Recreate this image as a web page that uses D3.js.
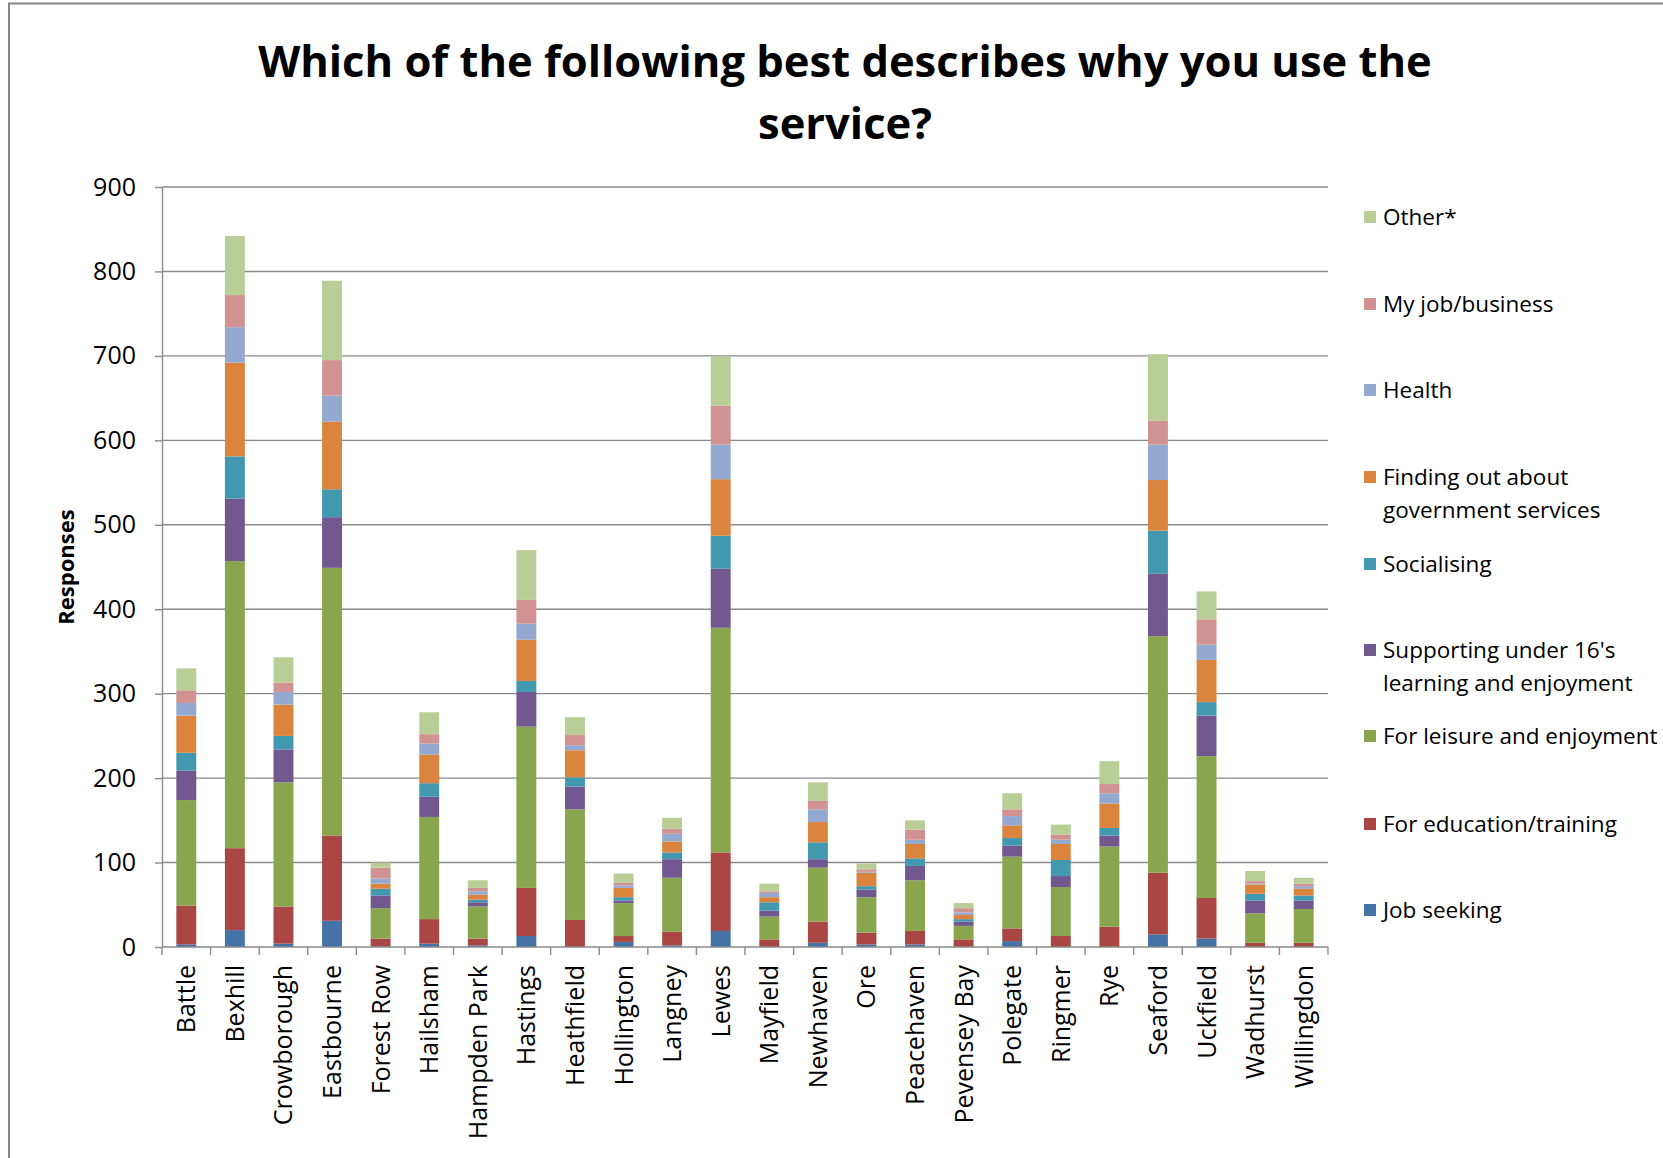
<!DOCTYPE html>
<html>
<head>
<meta charset="utf-8">
<script src="https://cdn.jsdelivr.net/npm/d3@7"></script>
<style>
  html, body { margin: 0; padding: 0; background: #fff; }
  svg { display: block; }
</style>
</head>
<body>
<svg id="chart" width="1663" height="1158"></svg>
<script>
const categories = ["Battle","Bexhill","Crowborough","Eastbourne","Forest Row","Hailsham","Hampden Park","Hastings","Heathfield","Hollington","Langney","Lewes","Mayfield","Newhaven","Ore","Peacehaven","Pevensey Bay","Polegate","Ringmer","Rye","Seaford","Uckfield","Wadhurst","Willingdon"];

const jobSeeking  = [3,20,4,31,1,4,2,13,0,6,2,19,0,5,3,3,0,7,0,0,15,10,0,0];
const education   = [46,97,44,101,9,29,8,57,32,7,16,93,9,25,14,16,9,15,13,24,73,48,5,5];
const leisure     = [125,340,147,317,36,121,38,191,131,39,64,266,27,64,42,60,16,85,58,95,280,168,35,40];
const supporting  = [35,74,39,60,15,24,5,41,27,3,22,70,7,10,9,17,5,13,13,13,74,48,15,10];
const socialising = [21,50,16,33,8,16,3,13,11,4,8,39,10,20,4,9,3,9,19,9,51,16,8,6];
const finding     = [44,111,37,80,6,34,6,49,32,11,13,67,6,24,16,17,5,15,19,29,60,50,11,8];
const health      = [15,42,15,31,6,13,4,19,6,3,9,41,5,15,1,5,3,11,5,12,42,18,1,3];
const myJob       = [15,38,11,42,13,11,4,28,12,3,6,46,2,10,3,12,5,8,6,11,28,30,3,3];
const other       = [26,70,30,94,6,26,9,59,21,11,13,58,9,22,7,11,6,19,12,27,79,33,12,7];

const seriesNames = ["Job seeking","For education/training","For leisure and enjoyment","Supporting under 16's learning and enjoyment","Socialising","Finding out about government services","Health","My job/business","Other*"];
const seriesLegendLines = [["Job seeking"],["For education/training"],["For leisure and enjoyment"],["Supporting under 16's","learning and enjoyment"],["Socialising"],["Finding out about","government services"],["Health"],["My job/business"],["Other*"]];
const seriesColors = ["#4572A7","#AA4643","#89A54E","#71588F","#4198AF","#DB843D","#93A9CF","#D19392","#B9CD96"];
const seriesValues = [jobSeeking, education, leisure, supporting, socialising, finding, health, myJob, other];
const yTicks = [0,100,200,300,400,500,600,700,800,900];
const titleLines = ["Which of the following best describes why you use the","service?"];
const yTitle = "Responses";

const svg = d3.select("#chart");
const FONT = "'Open Sans', 'Noto Sans', sans-serif";
const GRID = "#8a8a8a";

// outer frame
svg.append("rect").attr("x", 9).attr("y", 3.5).attr("width", 1700).attr("height", 1200)
  .attr("fill", "#fff").attr("stroke", "#878787").attr("stroke-width", 2);

const plotL = 162, plotR = 1328, plotT = 187, plotB = 947;

const x = d3.scaleBand().domain(categories).range([plotL, plotR]).paddingInner(0.59).paddingOuter(0.295);
const y = d3.scaleLinear().domain([0, 900]).range([plotB, plotT]);

// gridlines
svg.append("g").selectAll("line").data(yTicks.filter(d => d > 0)).join("line")
  .attr("x1", plotL).attr("x2", plotR)
  .attr("y1", d => y(d)).attr("y2", d => y(d))
  .attr("stroke", GRID).attr("stroke-width", 1.4);

// stack
const table = categories.map((c, i) => {
  const o = { cat: c };
  seriesNames.forEach((s, j) => o[s] = seriesValues[j][i]);
  return o;
});
const stack = d3.stack().keys(seriesNames)(table);

svg.append("g").selectAll("g").data(stack).join("g")
  .attr("fill", (d, i) => seriesColors[i])
  .selectAll("rect").data(d => d).join("rect")
  .attr("x", d => x(d.data.cat))
  .attr("width", x.bandwidth())
  .attr("y", d => y(d[1]))
  .attr("height", d => Math.max(0, y(d[0]) - y(d[1])));

// y axis
const yAxis = svg.append("g").attr("transform", `translate(${plotL},0)`)
  .call(d3.axisLeft(y).tickValues(yTicks).tickSizeInner(7).tickSizeOuter(0).tickPadding(19));
yAxis.select(".domain").attr("stroke", GRID).attr("stroke-width", 1.4);
yAxis.selectAll(".tick line").attr("stroke", GRID).attr("stroke-width", 1.4);
yAxis.selectAll(".tick text").attr("font-family", FONT).attr("font-size", 25).attr("fill", "#000");

// x axis baseline + ticks at category boundaries
svg.append("line").attr("x1", plotL).attr("x2", plotR).attr("y1", plotB).attr("y2", plotB)
  .attr("stroke", GRID).attr("stroke-width", 1.4);
const bounds = d3.range(categories.length + 1).map(i => plotL + i * x.step());
svg.append("g").selectAll("line").data(bounds).join("line")
  .attr("x1", d => d).attr("x2", d => d).attr("y1", plotB).attr("y2", plotB + 8)
  .attr("stroke", GRID).attr("stroke-width", 1.4);

// x labels
svg.append("g").selectAll("text").data(categories).join("text")
  .attr("transform", d => `translate(${x(d) + x.bandwidth() / 2},965) rotate(-90)`)
  .attr("text-anchor", "end").attr("dy", "0.36em")
  .attr("font-family", FONT).attr("font-size", 25).attr("fill", "#000")
  .text(d => d);

// y title
svg.append("text").attr("transform", "translate(66,567) rotate(-90)")
  .attr("text-anchor", "middle").attr("dy", "0.36em")
  .attr("font-family", FONT).attr("font-weight", "bold").attr("font-size", 22).attr("fill", "#000")
  .text(yTitle);

// title (fit width)
const t1 = svg.append("text").attr("x", 845).attr("y", 77).attr("text-anchor", "middle")
  .attr("font-family", FONT).attr("font-weight", "bold").attr("font-size", 40).attr("fill", "#000")
  .text(titleLines[0]);
const w1 = t1.node().getComputedTextLength();
const tSize = 40 * 1174 / w1;
t1.attr("font-size", tSize);
svg.append("text").attr("x", 845).attr("y", 139).attr("text-anchor", "middle")
  .attr("font-family", FONT).attr("font-weight", "bold").attr("font-size", tSize).attr("fill", "#000")
  .text(titleLines[1]);

// legend
const legendY = [910, 824, 736, 650, 564, 477, 390, 304, 217];
const lg = svg.append("g").selectAll("g").data(seriesNames).join("g")
  .attr("transform", (d, i) => `translate(1364,${legendY[i]})`);
lg.append("rect").attr("x", 0).attr("y", -6).attr("width", 12).attr("height", 12)
  .attr("fill", (d, i) => seriesColors[i]);
lg.each(function(d, i) {
  const g = d3.select(this);
  seriesLegendLines[i].forEach((line, k) => {
    g.append("text").attr("x", 19).attr("y", k * 33).attr("dy", "0.36em")
      .attr("font-family", FONT).attr("font-size", 22.5).attr("fill", "#000")
      .text(line);
  });
});
</script>
</body>
</html>
